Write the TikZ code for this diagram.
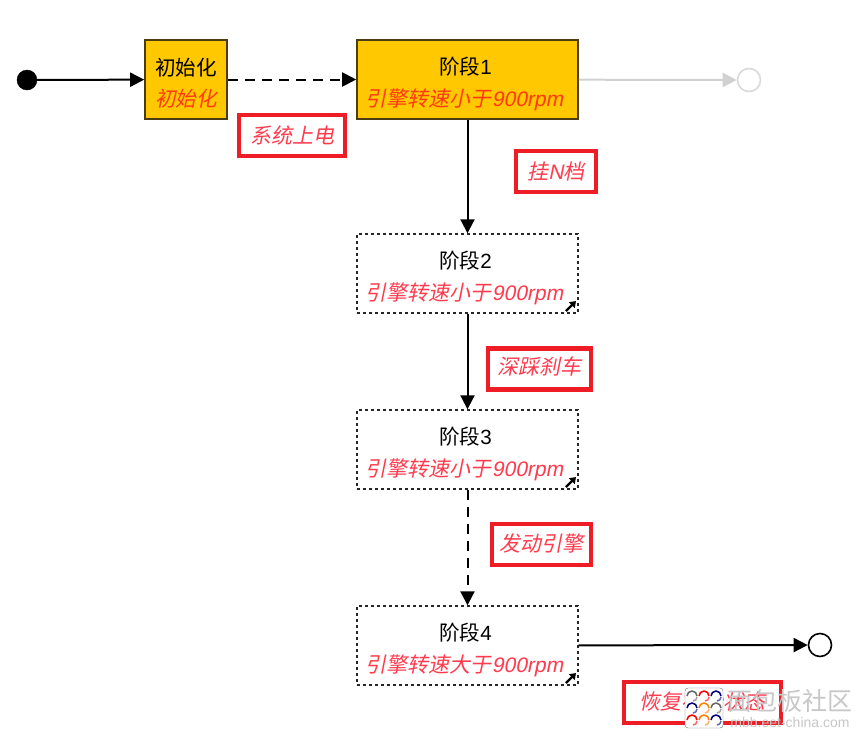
\documentclass[tikz,border=0pt]{standalone}
\usepackage{fontspec}
\setmainfont{Liberation Sans}
\newfontfamily\cjk{Noto Sans CJK SC}[Scale=1]
\newfontfamily\cjkit{Noto Sans CJK SC}[FakeSlant=0.2]
\newfontfamily\latit{Liberation Sans}[Ligatures=TeX,FakeSlant=0.2]
\usetikzlibrary{arrows.meta}
\definecolor{stagegold}{HTML}{FFC800}
\definecolor{stageedge}{HTML}{4A3C10}
\definecolor{activetext}{HTML}{FF3A10}
\definecolor{softred}{HTML}{FF3B4E}
\definecolor{boxred}{HTML}{EE1C25}
\newcommand{\titletext}[1]{{\fontsize{20.6}{22}\selectfont\rule{0pt}{22pt}\cjk #1}}
\newcommand{\subtext}[1]{{\fontsize{20.6}{22}\selectfont\cjkit #1}}
\newcommand{\rpmtext}[1]{{\fontsize{21}{22}\selectfont\cjkit #1\latit 900rpm\hspace{6pt}}}
\newcommand{\stagetitle}[1]{\mbox{\titletext{阶段}{\fontsize{20.6}{22}\selectfont #1}\hspace{4pt}}}
\begin{document}
\begin{tikzpicture}[x=1pt,y=-1pt,
    flow/.style={draw=black, line width=2pt, -{Triangle[length=14pt,width=14pt]}},
    activebox/.style={draw=stageedge, line width=1.6pt, fill=stagegold, align=center, text=black, inner sep=0pt, minimum height=79pt, text depth=0pt},
    dottedbox/.style={draw=black!85, line width=1.4pt, dash pattern=on 3pt off 3pt, fill=white, align=center, inner sep=0pt, minimum width=221pt, minimum height=79pt, text depth=0pt},
    tagbox/.style={draw=boxred, line width=4.6pt, fill=white, text=softred, inner sep=0pt, minimum height=41pt, font=\fontsize{21}{22}\selectfont\cjkit},
    startdot/.style={circle, fill=black, draw=black, inner sep=0pt, minimum size=20pt},
    stopdot/.style={circle, fill=white, draw=black, line width=1.6pt, inner sep=0pt, minimum size=23pt},
    smalllink/.style={line width=2.4pt, -{Triangle[length=6pt,width=8pt]}}
  ]
  \useasboundingbox (0,0) rectangle (862,740);

  % states
  \node[startdot] (start) at (27,80) {};
  \node[activebox, minimum width=82pt] (init) at (186,79.5) {\titletext{初始化}\\[11pt]\textcolor{activetext}{\subtext{初始化}}};
  \node[activebox, minimum width=221pt] (stageA) at (467.5,79.5) {\stagetitle{1}\\[11pt]\textcolor{activetext}{\rpmtext{引擎转速小于}}};
  \node[dottedbox] (stageB) at (467.5,273.5) {\stagetitle{2}\\[11pt]\textcolor{softred}{\rpmtext{引擎转速小于}}};
  \node[dottedbox] (stageC) at (467.5,449.5) {\stagetitle{3}\\[11pt]\textcolor{softred}{\rpmtext{引擎转速小于}}};
  \node[dottedbox] (stageD) at (467.5,645.5) {\stagetitle{4}\\[11pt]\textcolor{softred}{\rpmtext{引擎转速大于}}};
  \node[stopdot, draw=black!15] (stopA) at (749,80) {};
  \node[stopdot] (stopB) at (820,645) {};

  % connectors
  \draw[flow] (start) -- (init);
  \draw[flow, dash pattern=on 10pt off 7pt] (init) -- (stageA);
  \draw[flow, draw=black!18, -{Triangle[length=14pt,width=14pt,black!18]}] (stageA) -- (stopA);
  \draw[flow] (stageA) -- (stageB);
  \draw[flow] (stageB) -- (stageC);
  \draw[flow, dash pattern=on 10pt off 7pt] (stageC) -- (stageD);
  \draw[flow] (stageD) -- (stopB);

  % little link marks
  \foreach \y in {306,482,678} {
    \draw[smalllink] (566,\y+5) -- (576,\y-5);
  }

  % tags
  \node[tagbox, minimum width=106pt] (tagPower) at (292,135.5) {系统上电};
  \node[tagbox, minimum width=80pt] (tagGear) at (556,171.5) {挂{\latit N}档};
  \node[tagbox, minimum width=103pt] (tagBrake) at (539.5,369) {\raisebox{6pt}{深踩刹车}};
  \node[tagbox, minimum width=99pt] (tagEngine) at (541.5,544.5) {\raisebox{4pt}{发动引擎}};
  \node[tagbox, minimum width=157pt] (tagRestore) at (702.5,702.5) {\raisebox{4pt}{恢复初始状态}\hspace{13pt}};

  % watermark
  \node[text=black!22, font=\fontsize{25}{27}\selectfont\cjk, inner sep=0pt] (markName) at (790,701) {面包板社区};
  \node[text=black!22, font=\fontsize{14}{16}\selectfont, inner sep=0pt] (markSite) at (790,722) {mbb.eet-china.com};
  \draw[black!55, fill=white, rounded corners=3pt] (685,688) rectangle (723,728);
  \foreach \cx/\cy/\tint in {692/696/black!60, 704/696/red, 716/696/blue!50!black,
      692/708/blue!50!black, 704/708/orange, 716/708/black!60,
      692/720/red, 704/720/orange, 716/720/blue!50!black} {
    \draw[\tint, line width=1.5pt] (\cx-5,\cy) arc[start angle=180, end angle=0, radius=5pt];
    \draw[\tint, opacity=0.6, line width=1.5pt] (\cx+5,\cy+1) arc[start angle=0, end angle=-90, radius=4pt];
  }
\end{tikzpicture}
\end{document}
